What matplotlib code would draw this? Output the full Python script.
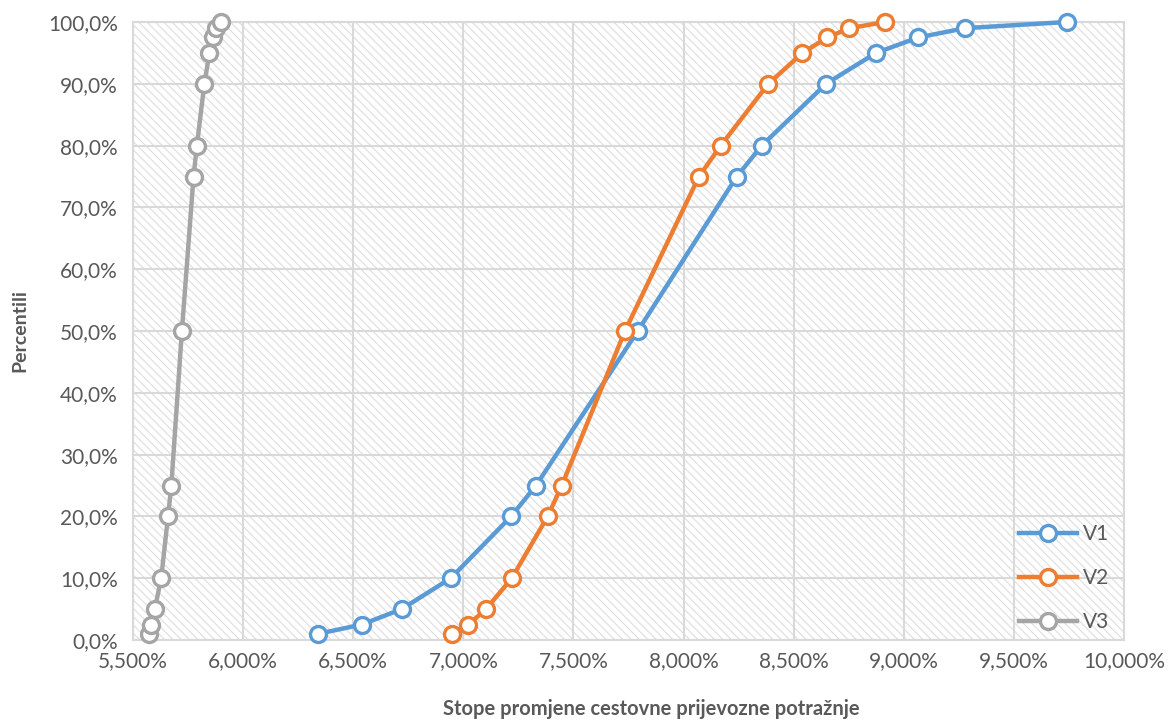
import matplotlib
matplotlib.use("Agg")
import matplotlib.pyplot as plt
from matplotlib.ticker import FuncFormatter, MultipleLocator
from matplotlib.patches import Rectangle

percentiles = [1, 2.5, 5, 10, 20, 25, 50, 75, 80, 90, 95, 97.5, 99, 100]
v1 = [6.341, 6.539, 6.720, 6.943, 7.217, 7.330, 7.792, 8.242, 8.355, 8.647, 8.874, 9.066, 9.278, 9.740]
v2 = [6.947, 7.023, 7.103, 7.220, 7.383, 7.447, 7.734, 8.070, 8.169, 8.385, 8.540, 8.653, 8.753, 8.915]
v3 = [5.572, 5.584, 5.599, 5.628, 5.659, 5.674, 5.722, 5.775, 5.790, 5.824, 5.847, 5.865, 5.875, 5.899]
series_names = ["V1", "V2", "V3"]
colors = ["#5B9BD5", "#ED7D31", "#A5A5A5"]
x_label = "Stope promjene cestovne prijevozne potražnje"
y_label = "Percentili"

plt.rcParams['font.family'] = ['Lato', 'DejaVu Sans']
plt.rcParams['hatch.linewidth'] = 0.8

W, H = 1174, 722
fig = plt.figure(figsize=(W / 100, H / 100), dpi=100)
ax = fig.add_axes([133 / W, (H - 640) / H, (1124 - 133) / W, (640 - 22) / H])

# hatched background
bg = Rectangle((0, 0), 1, 1, transform=ax.transAxes, facecolor="white",
               edgecolor="#dedede", hatch="\\\\\\\\", linewidth=0, zorder=0)
ax.add_patch(bg)

for vals, name, c in zip([v1, v2, v3], series_names, colors):
    ax.plot(vals, percentiles, color=c, linewidth=3.2, marker="o", markersize=11.5,
            markerfacecolor="white", markeredgecolor=c, markeredgewidth=2.4,
            label=name, zorder=3, clip_on=False)

ax.set_xlim(5.5, 10.0)
ax.set_ylim(0, 100)
ax.xaxis.set_major_locator(MultipleLocator(0.5))
ax.yaxis.set_major_locator(MultipleLocator(10))
ax.xaxis.set_major_formatter(FuncFormatter(lambda v, p: f"{v:.3f}%".replace(".", ",")))
ax.yaxis.set_major_formatter(FuncFormatter(lambda v, p: f"{v:.1f}%".replace(".", ",")))
ax.grid(True, color="#d9d9d9", linewidth=1.5, zorder=1)
ax.set_axisbelow(True)
for s in ax.spines.values():
    s.set_color("#d9d9d9")
    s.set_linewidth(1.5)
ax.tick_params(length=0, labelsize=15, labelcolor="#595959")
ax.tick_params(axis="y", pad=11)
ax.tick_params(axis="x", pad=8)

ax.set_xlabel(x_label, fontsize=14.5, fontweight="bold", color="#595959")
ax.xaxis.set_label_coords(0.523, -(699 - 640) / 618)
ax.set_ylabel(y_label, fontsize=14, fontweight="bold", color="#595959", labelpad=14)

leg = ax.legend(loc="center left", bbox_to_anchor=(1019 / W, (H - 578) / H),
                bbox_transform=fig.transFigure, frameon=False, fontsize=15,
                handlelength=2.8, handletextpad=0.25, labelspacing=1.15,
                borderpad=0, borderaxespad=0, labelcolor="#595959")

fig.savefig("out.png", dpi=100)
